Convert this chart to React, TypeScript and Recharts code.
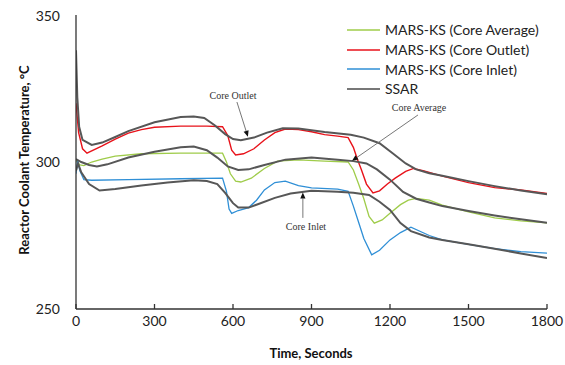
import React from 'react';
import {
  LineChart,
  Line,
  XAxis,
  YAxis,
  ReferenceLine,
  ReferenceDot,
} from 'recharts';

// time (s) / temperature (°C) pairs
const ssarOutletTime = [0, 5, 12, 25, 60, 100, 150, 200, 300, 400, 450, 490, 530, 570, 600, 630, 680, 730, 790, 850, 950, 1050, 1100, 1160, 1210, 1260, 1300, 1350, 1400, 1500, 1600, 1700, 1800];
const ssarOutletTemp = [338, 322, 312, 307.5, 305.8, 306.6, 308.5, 310.5, 313.5, 315.3, 315.5, 315, 312.5, 309.5, 307.8, 307.4, 308.3, 310, 311.5, 311.4, 310.2, 309.3, 308.3, 306.4, 303, 299.5, 297.5, 296.2, 295.3, 293.5, 291.8, 290.3, 289];

const ssarAvgTime = [0, 20, 50, 80, 120, 200, 300, 400, 450, 500, 540, 580, 620, 660, 720, 800, 900, 1000, 1060, 1110, 1150, 1200, 1250, 1300, 1350, 1400, 1500, 1600, 1700, 1800];
const ssarAvgTemp = [301, 300, 299, 298.5, 299.2, 301.5, 303.5, 305, 305.3, 304, 301.5, 298.5, 297.3, 297.5, 299, 300.8, 301.5, 300.8, 300.3, 299.5, 297.5, 294, 289.8, 287.5, 286.2, 285, 283.3, 281.8, 280.5, 279.3];

const ssarInletTime = [0, 8, 20, 50, 90, 150, 250, 350, 450, 500, 540, 570, 600, 620, 660, 700, 760, 820, 900, 1000, 1060, 1120, 1160, 1200, 1240, 1280, 1350, 1400, 1500, 1600, 1700, 1800];
const ssarInletTemp = [297, 299.5, 296.5, 292.5, 290.3, 290.8, 292, 293, 293.8, 293.5, 292.5, 289.5, 286, 284.5, 284.5, 285.8, 287.8, 289.3, 290.2, 289.9, 289.5, 288.8, 286.5, 283.7, 279.2, 276.5, 274.3, 273.5, 272, 270.5, 268.9, 267.3];

const marsOutletTime = [0, 10, 25, 42, 60, 100, 150, 200, 250, 300, 400, 500, 560, 580, 595, 610, 640, 680, 720, 760, 800, 850, 900, 950, 1000, 1040, 1060, 1075, 1090, 1110, 1135, 1160, 1190, 1220, 1260, 1290, 1330, 1400, 1500, 1600, 1700, 1800];
const marsOutletTemp = [320, 310, 304.5, 303, 303.8, 305.5, 307.8, 309.8, 311, 311.8, 312.2, 312.2, 312, 309, 304, 302.4, 302.8, 304.5, 307.5, 310, 311.2, 311, 310.3, 309.3, 308.8, 308.3, 305, 301, 297.5, 292.5, 289.5, 290.2, 292.5, 294.5, 296.8, 297.8, 297, 295.2, 293, 291.3, 290.5, 289.3];

const marsAvgTime = [0, 15, 30, 60, 100, 150, 250, 400, 560, 575, 590, 610, 630, 670, 720, 770, 850, 950, 1040, 1060, 1080, 1100, 1120, 1140, 1170, 1200, 1240, 1270, 1300, 1350, 1400, 1500, 1600, 1700, 1800];
const marsAvgTemp = [300.5, 299, 298.8, 300, 301, 302, 302.8, 303, 303, 300, 296, 293.5, 293.2, 294.5, 297.8, 300.3, 300.7, 300.3, 300, 297.3, 292.5, 287.5, 281.5, 279.2, 280.3, 282.6, 285.5, 287, 287.6, 287, 285.3, 283, 281, 280, 279.3];

const marsInletTime = [0, 6, 15, 30, 60, 200, 400, 560, 575, 585, 595, 620, 660, 690, 720, 760, 800, 850, 900, 1000, 1040, 1060, 1080, 1100, 1130, 1160, 1200, 1240, 1280, 1350, 1400, 1500, 1600, 1700, 1800];
const marsInletTemp = [296, 300.5, 297, 294, 293.8, 294, 294.3, 294.5, 290, 284, 282.5, 283.5, 284.5, 287, 290.5, 293, 293.5, 292, 291.2, 290.8, 290, 285, 279.5, 274, 268.4, 270, 273.5, 276, 277.8, 275, 273.5, 272, 270.5, 269.5, 269];

const xTicks = [0, 300, 600, 900, 1200, 1500, 1800];
const yTicks = [250, 300, 350];
const yMinorTicks = [250, 270, 290, 310, 330, 350];

const legendItems = [
  { name: 'MARS-KS (Core Average)', color: '#9fcc4a' },
  { name: 'MARS-KS (Core Outlet)', color: '#e8121a' },
  { name: 'MARS-KS (Core Inlet)', color: '#2f8fd6' },
  { name: 'SSAR', color: '#4a4a4a' },
];

const zip = (ts: number[], vs: number[]) => ts.map((t, i) => ({ t, v: vs[i] }));

const SSAR = '#575757';
const LABEL_FONT = 'Lato, "Noto Sans", sans-serif';

function Arrow(props: any) {
  const { x1, y1, x2, y2 } = props;
  const ang = Math.atan2(y2 - y1, x2 - x1);
  const len = 6;
  const w = 2.6;
  const bx = x2 - len * Math.cos(ang);
  const by = y2 - len * Math.sin(ang);
  const px = -Math.sin(ang) * w;
  const py = Math.cos(ang) * w;
  return (
    <g>
      <line x1={x1} y1={y1} x2={bx} y2={by} stroke="#777" strokeWidth={1} />
      <polygon points={`${x2},${y2} ${bx + px},${by + py} ${bx - px},${by - py}`} fill="#111" />
    </g>
  );
}

const annoLabel = (value: string) => ({
  value,
  position: 'center' as const,
  fontSize: 10,
  fontFamily: '"Liberation Serif", "DejaVu Serif", serif',
  fill: '#333',
});

export default function App() {
  return (
    // full-window box; the chart itself sits 8px in, where the body margin would put it
    <div style={{ position: 'relative', width: 565, height: 365 }}>
      <style>{'html, body { margin: 0; overflow: hidden; }'}</style>
      <div style={{ position: 'absolute', left: 8, top: 8, width: 557, height: 357 }}>
        <LineChart width={557} height={357} margin={{ top: 7, right: 18, left: 8, bottom: 0 }}>
          <XAxis
            dataKey="t"
            type="number"
            domain={[0, 1800]}
            ticks={xTicks}
            allowDataOverflow
            height={56}
            tickSize={-5}
            tickMargin={12}
            stroke="#333"
            strokeWidth={1.3}
            tick={{ fill: '#222', fontSize: 14, fontFamily: LABEL_FONT }}
          />
          <XAxis
            xAxisId="top"
            orientation="top"
            type="number"
            domain={[0, 1800]}
            ticks={xTicks}
            height={0}
            tick={false}
            tickSize={-5}
            stroke="#333"
            strokeWidth={1.3}
          />
          <YAxis
            type="number"
            domain={[250, 350]}
            ticks={yTicks}
            width={60}
            tickLine={false}
            tickMargin={10}
            stroke="#333"
            strokeWidth={1.3}
            tick={{ fill: '#222', fontSize: 14, fontFamily: LABEL_FONT }}
          />
          <YAxis
            yAxisId="right"
            orientation="right"
            type="number"
            domain={[250, 350]}
            ticks={yMinorTicks}
            width={0}
            tick={false}
            tickSize={-5}
            stroke="#333"
            strokeWidth={1.3}
          />

          <Line data={zip(marsAvgTime, marsAvgTemp)} dataKey="v" name="MARS-KS (Core Average)" stroke="#9fcc4a" strokeWidth={1.3} dot={false} isAnimationActive={false} />
          <Line data={zip(marsOutletTime, marsOutletTemp)} dataKey="v" name="MARS-KS (Core Outlet)" stroke="#e8121a" strokeWidth={1.4} dot={false} isAnimationActive={false} />
          <Line data={zip(marsInletTime, marsInletTemp)} dataKey="v" name="MARS-KS (Core Inlet)" stroke="#2f8fd6" strokeWidth={1.3} dot={false} isAnimationActive={false} />
          <Line data={zip(ssarOutletTime, ssarOutletTemp)} dataKey="v" name="SSAR" stroke={SSAR} strokeWidth={2} dot={false} isAnimationActive={false} />
          <Line data={zip(ssarAvgTime, ssarAvgTemp)} dataKey="v" name="SSAR avg" stroke={SSAR} strokeWidth={2} dot={false} isAnimationActive={false} />
          <Line data={zip(ssarInletTime, ssarInletTemp)} dataKey="v" name="SSAR inlet" stroke={SSAR} strokeWidth={2} dot={false} isAnimationActive={false} />

          <ReferenceLine segment={[{ x: 615, y: 320.4 }, { x: 657, y: 308.6 }]} shape={Arrow} />
          <ReferenceLine segment={[{ x: 1307, y: 316 }, { x: 1055, y: 300.4 }]} shape={Arrow} />
          <ReferenceLine segment={[{ x: 867, y: 281 }, { x: 867, y: 289.6 }]} shape={Arrow} />
          <ReferenceDot x={600} y={322.8} r={0} stroke="none" fill="none" label={annoLabel('Core Outlet')} />
          <ReferenceDot x={1311} y={318.4} r={0} stroke="none" fill="none" label={annoLabel('Core Average')} />
          <ReferenceDot x={879} y={278} r={0} stroke="none" fill="none" label={annoLabel('Core Inlet')} />
        </LineChart>

        <div style={{ position: 'absolute', left: 339, top: 12, fontFamily: LABEL_FONT, fontSize: 14, color: '#222' }}>
          {legendItems.map((it) => (
            <div key={it.name} style={{ height: 19.7, display: 'flex', alignItems: 'center' }}>
              <svg width={38} height={4}>
                <line x1={0} y1={2} x2={33} y2={2} stroke={it.color} strokeWidth={1.6} />
              </svg>
              <span style={{ whiteSpace: 'nowrap' }}>{it.name}</span>
            </div>
          ))}
        </div>
        <div
          style={{
            position: 'absolute',
            left: 16,
            top: 152,
            transform: 'translate(-50%, -50%) rotate(-90deg)',
            whiteSpace: 'nowrap',
            fontFamily: LABEL_FONT,
            fontWeight: 700,
            fontSize: 13,
            color: '#111',
          }}
        >
          Reactor Coolant Temperature, °C
        </div>
        <div
          style={{
            position: 'absolute',
            left: 303,
            top: 345,
            transform: 'translate(-50%, -50%)',
            whiteSpace: 'nowrap',
            fontFamily: LABEL_FONT,
            fontWeight: 700,
            fontSize: 13,
            color: '#111',
          }}
        >
          Time, Seconds
        </div>
      </div>
    </div>
  );
}
